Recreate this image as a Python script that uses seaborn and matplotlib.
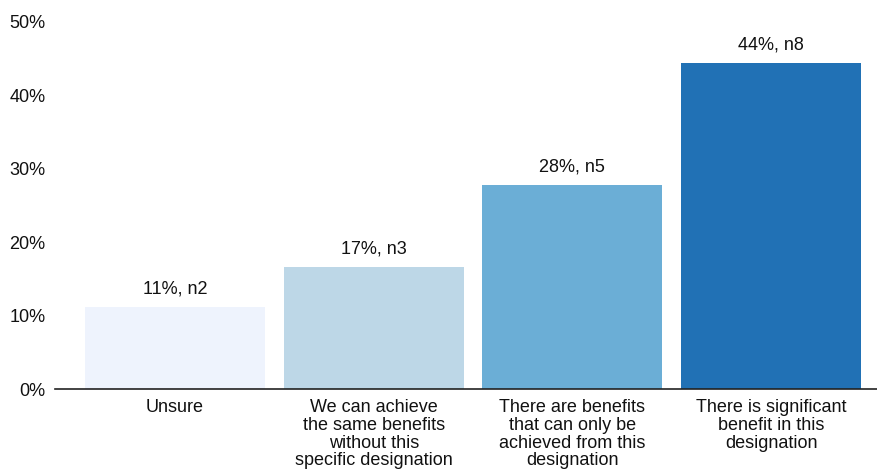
import matplotlib
matplotlib.use("Agg")
import matplotlib.pyplot as plt
import seaborn as sns
import pandas as pd

# Survey responses: views on the value of the designation
categories = [
    "Unsure",
    "We can achieve\nthe same benefits\nwithout this\nspecific designation",
    "There are benefits\nthat can only be\nachieved from this\ndesignation",
    "There is significant\nbenefit in this\ndesignation",
]
counts = [2, 3, 5, 8]
total = 18
colors = ["#eef3fd", "#bdd7e7", "#6baed6", "#2171b5"]
y_ticks = [0, 10, 20, 30, 40, 50]

pct = [c / total * 100 for c in counts]
df = pd.DataFrame({"category": categories, "pct": pct, "n": counts})

sns.set_theme(style="white")
plt.rcParams["font.family"] = ["Liberation Sans", "DejaVu Sans"]

fig = plt.figure(figsize=(8.77, 4.74), dpi=100)
ax = fig.add_axes([55 / 877, 1 - 389 / 474, 822 / 877, (389 - 22) / 474])

sns.barplot(data=df, x="category", y="pct", hue="category", palette=colors,
            legend=False, width=0.906, saturation=1, linewidth=0, ax=ax)

for i, (p, n) in enumerate(zip(df["pct"], df["n"])):
    ax.text(i, p + 1.3, f"{round(p)}%, n{n}", ha="center", va="bottom",
            fontsize=13, color="#111111")

ax.set_ylim(0, 50)
ax.set_xlim(-0.604, 3.533)
ax.set_yticks(y_ticks)
ax.set_yticklabels([f"{t}%" for t in y_ticks], fontsize=13, color="#111111")
ax.set_xticks(range(len(categories)))
ax.set_xticklabels(categories, fontsize=13, color="#111111", linespacing=1.07, va="top")
ax.set_xlabel("")
ax.set_ylabel("")
ax.tick_params(axis="both", length=0)
ax.tick_params(axis="y", pad=7)
ax.tick_params(axis="x", pad=7)

for side in ["top", "right", "left"]:
    ax.spines[side].set_visible(False)
ax.spines["bottom"].set_color("#222222")
ax.spines["bottom"].set_linewidth(1.2)

fig.savefig("out.png", dpi=100, facecolor="white")
